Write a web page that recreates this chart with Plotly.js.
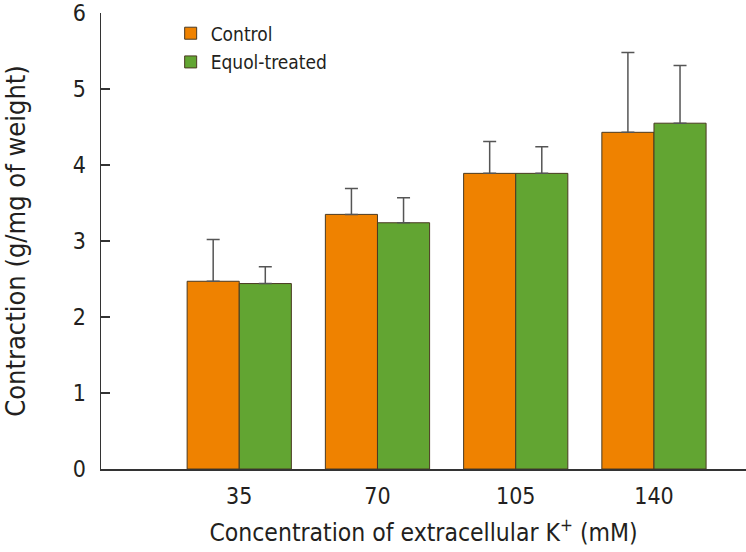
<!DOCTYPE html>
<html>
<head>
<meta charset="utf-8">
<script src="https://cdn.plot.ly/plotly-3.0.1.min.js"></script>
<style>html,body{margin:0;padding:0;background:#fff;}#chart{width:746px;height:552px;}</style>
</head>
<body>
<div id="chart"></div>
<script>
const concentrations = [35, 70, 105, 140];
const tickLabels = ['35', '70', '105', '140'];
const controlMean = [2.47, 3.35, 3.89, 4.43];
const controlErr = [0.55, 0.34, 0.42, 1.05];
const equolMean = [2.44, 3.24, 3.89, 4.55];
const equolErr = [0.22, 0.33, 0.35, 0.76];
const yTicks = [0, 1, 2, 3, 4, 5, 6];

const FONT = '"Liberation Sans Narrow", "DejaVu Sans Condensed", "Roboto", sans-serif';
const outline = {color: '#4a3a22', width: 1};
const errStyle = {type: 'data', symmetric: false, thickness: 1.5, width: 6.5, color: '#555555'};

const traces = [
  {
    type: 'bar', name: 'Control', x: concentrations, y: controlMean,
    marker: {color: '#EF8200', line: outline},
    error_y: Object.assign({array: controlErr, arrayminus: controlMean.map(() => 0)}, errStyle),
    legendgroup: 'a'
  },
  {
    type: 'bar', name: 'Equol-treated', x: concentrations, y: equolMean,
    marker: {color: '#62A532', line: outline},
    error_y: Object.assign({array: equolErr, arrayminus: equolMean.map(() => 0)}, errStyle),
    legendgroup: 'b'
  }
];

const layout = {
  width: 746, height: 552,
  margin: {l: 101, r: 0, t: 13, b: 83},
  paper_bgcolor: '#fff', plot_bgcolor: '#fff',
  font: {family: FONT, color: '#231f20', size: 23},
  barmode: 'group', bargap: 0.246, bargroupgap: 0,
  showlegend: true,
  legend: {
    x: 0.108, y: 0.997, xanchor: 'left', yanchor: 'top',
    bgcolor: 'rgba(0,0,0,0)', font: {size: 19, family: FONT, color: '#231f20'},
    traceorder: 'grouped', tracegroupgap: 1
  },
  xaxis: {
    range: [0, 163.3], tickvals: concentrations, ticktext: tickLabels,
    showline: true, linecolor: '#333', linewidth: 1.5, ticks: '', showgrid: false, zeroline: false,
    tickfont: {size: 23}, ticklabelstandoff: 6,
    title: {text: 'Concentration of extracellular K<sup>+</sup> (mM)', font: {size: 24.5}, standoff: 16}
  },
  yaxis: {
    range: [0, 6], tickvals: yTicks, ticktext: yTicks.map(String), ticklabeloverflow: 'allow',
    showline: true, linecolor: '#333', linewidth: 1.5, ticks: 'inside', ticklen: 9, tickcolor: '#333', tickwidth: 1.5,
    showgrid: false, zeroline: false, tickfont: {size: 23}, ticklabelstandoff: 9,
    title: {text: 'Contraction (g/mg of weight)', font: {size: 27}, standoff: 40}
  }
};

Plotly.newPlot('chart', traces, layout, {displayModeBar: false, staticPlot: true});
</script>
</body>
</html>
